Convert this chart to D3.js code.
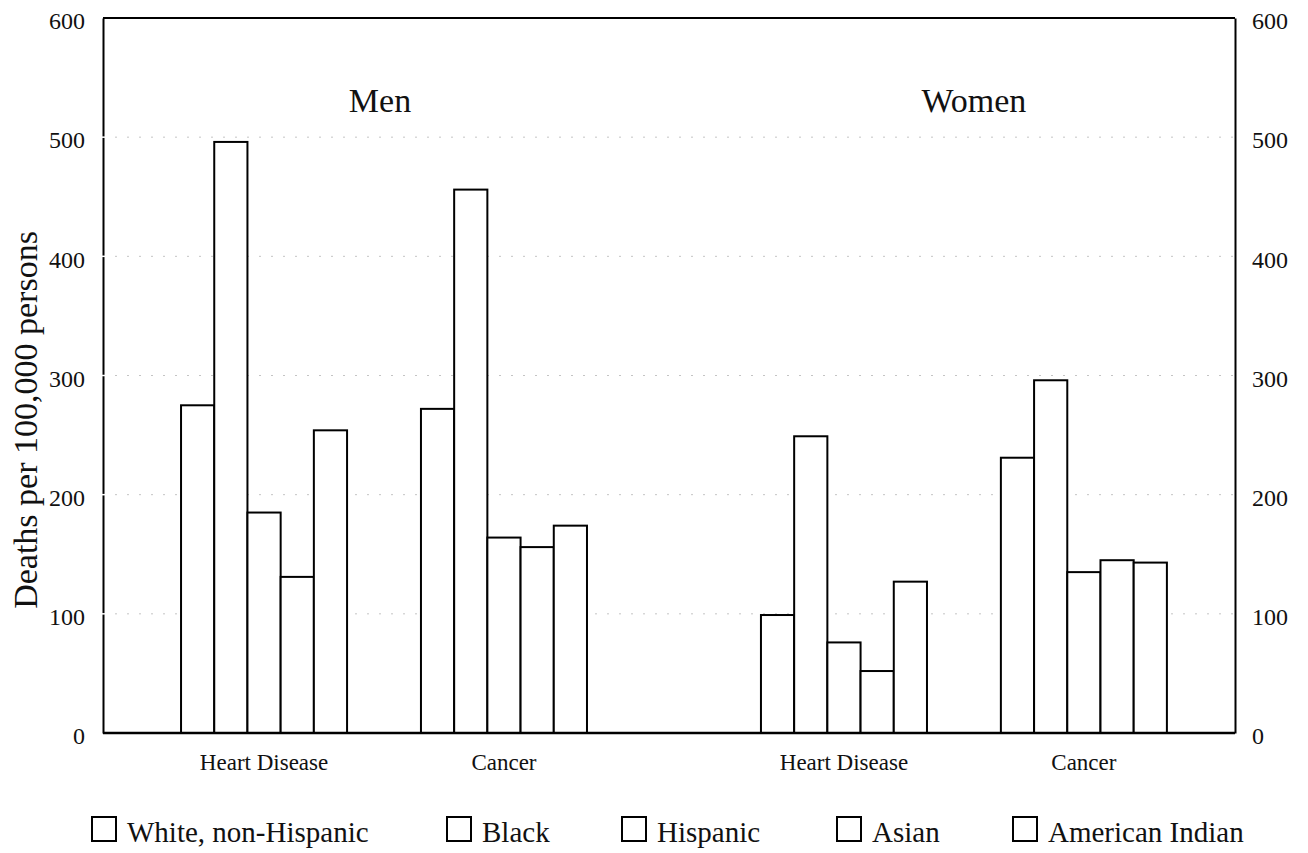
<!DOCTYPE html>
<html>
<head>
<meta charset="utf-8">
<script src="https://cdn.jsdelivr.net/npm/d3@7"></script>
<style>
  html, body { margin: 0; padding: 0; background: #fff; }
  svg { display: block; }
  text { font-family: "Liberation Serif", "Times New Roman", serif; fill: #111; }
</style>
</head>
<body>
<svg id="chart" width="1308" height="853"></svg>
<script>
// ---- data ----
const genders = ["Men", "Women"];
const causes = ["Heart Disease", "Cancer"];
const races = ["White, non-Hispanic", "Black", "Hispanic", "Asian", "American Indian"];
const menHeartDisease   = [275, 496, 185, 131, 254];
const menCancer         = [272, 456, 164, 156, 174];
const womenHeartDisease = [99, 249, 76, 52, 127];
const womenCancer       = [231, 296, 135, 145, 143];
const yTicks = [0, 100, 200, 300, 400, 500, 600];
const yTitle = "Deaths per 100,000 persons";

(function () {
const values = {
  "Men":   { "Heart Disease": menHeartDisease,   "Cancer": menCancer },
  "Women": { "Heart Disease": womenHeartDisease, "Cancer": womenCancer }
};

// ---- layout ----
const pLeft = 103, pRight = 1235, pTop = 18, pBottom = 733;
const svg = d3.select("#chart");

const y = d3.scaleLinear().domain([0, 600]).range([pBottom, pTop]);
const x0 = d3.scaleBand().domain(genders).range([pLeft, pRight])
  .paddingInner(0.3).paddingOuter(0.126).align(0.534);
const x1 = d3.scaleBand().domain(causes).range([0, x0.bandwidth()])
  .paddingInner(0.308).paddingOuter(0);
const x2 = d3.scaleBand().domain(races).range([0, x1.bandwidth()]).padding(0);

// gridlines (faint, broken)
svg.append("g").selectAll("line")
  .data(yTicks.filter(d => d > 0 && d < 600))
  .join("line")
  .attr("x1", pLeft).attr("x2", pRight)
  .attr("y1", d => y(d)).attr("y2", d => y(d))
  .attr("stroke", "#c4c4c4").attr("stroke-width", 1)
  .attr("stroke-dasharray", "2,10");

// bars
const flat = [];
genders.forEach(g => causes.forEach(c => races.forEach((r, i) => {
  flat.push({ g, c, r, v: values[g][c][i] });
})));

svg.append("g").selectAll("rect")
  .data(flat)
  .join("rect")
  .attr("x", d => x0(d.g) + x1(d.c) + x2(d.r))
  .attr("y", d => y(d.v))
  .attr("width", x2.bandwidth())
  .attr("height", d => y(0) - y(d.v))
  .attr("fill", "#fff")
  .attr("stroke", "#000")
  .attr("stroke-width", 2);

// frame
const frame = svg.append("g").attr("fill", "none").attr("stroke", "#000").attr("stroke-width", 2);
frame.append("line").attr("x1", pLeft).attr("x2", pRight).attr("y1", pTop).attr("y2", pTop);
frame.append("line").attr("x1", pLeft).attr("x2", pRight).attr("y1", pBottom).attr("y2", pBottom).attr("stroke-width", 2.5);

// left axis
const yAxisL = d3.axisLeft(y).tickValues(yTicks).tickSize(0).tickPadding(18).tickFormat(d3.format("d"));
const gL = svg.append("g").attr("transform", `translate(${pLeft},0)`).call(yAxisL);
gL.select(".domain").attr("stroke", "#000").attr("stroke-width", 2);
gL.selectAll("text").style("font-size", "24px").style("font-family", "Liberation Serif, serif")
  .attr("fill", "#111").attr("dy", "0.45em");

// right axis
const yAxisR = d3.axisRight(y).tickValues(yTicks).tickSize(0).tickPadding(17).tickFormat(d3.format("d"));
const gR = svg.append("g").attr("transform", `translate(${pRight},0)`).call(yAxisR);
gR.select(".domain").attr("stroke", "#000").attr("stroke-width", 2);
gR.selectAll("text").style("font-size", "24px").style("font-family", "Liberation Serif, serif")
  .attr("fill", "#111").attr("dy", "0.45em");

// small white notches on left axis at ticks
svg.append("g").selectAll("line")
  .data(yTicks.filter(d => d > 0 && d < 600))
  .join("line")
  .attr("x1", pLeft - 2).attr("x2", pLeft + 2)
  .attr("y1", d => y(d)).attr("y2", d => y(d))
  .attr("stroke", "#fff").attr("stroke-width", 1.5);

// category labels
const catG = svg.append("g");
genders.forEach(g => causes.forEach(c => {
  catG.append("text")
    .attr("x", x0(g) + x1(c) + x1.bandwidth() / 2)
    .attr("y", 770)
    .attr("text-anchor", "middle")
    .style("font-size", "23px")
    .text(c);
}));

// gender labels
svg.append("g").selectAll("text")
  .data(genders)
  .join("text")
  .attr("x", d => x0(d) + x0.bandwidth() / 2 + (d === "Men" ? -4 : 10))
  .attr("y", 112)
  .attr("text-anchor", "middle")
  .style("font-size", "34px")
  .text(d => d);

// y title
svg.append("text")
  .attr("transform", "translate(37,420) rotate(-90)")
  .attr("text-anchor", "middle")
  .style("font-size", "34px")
  .text(yTitle);

// legend
const legendX = [92, 447, 622, 837, 1013];
const lg = svg.append("g").selectAll("g")
  .data(races)
  .join("g")
  .attr("transform", (d, i) => `translate(${legendX[i]},817)`);
lg.append("rect")
  .attr("width", 24).attr("height", 24)
  .attr("fill", "#fff").attr("stroke", "#000").attr("stroke-width", 2);
lg.append("text")
  .attr("x", 35).attr("y", 25)
  .style("font-size", "29px")
  .text(d => d);
})();
</script>
</body>
</html>
